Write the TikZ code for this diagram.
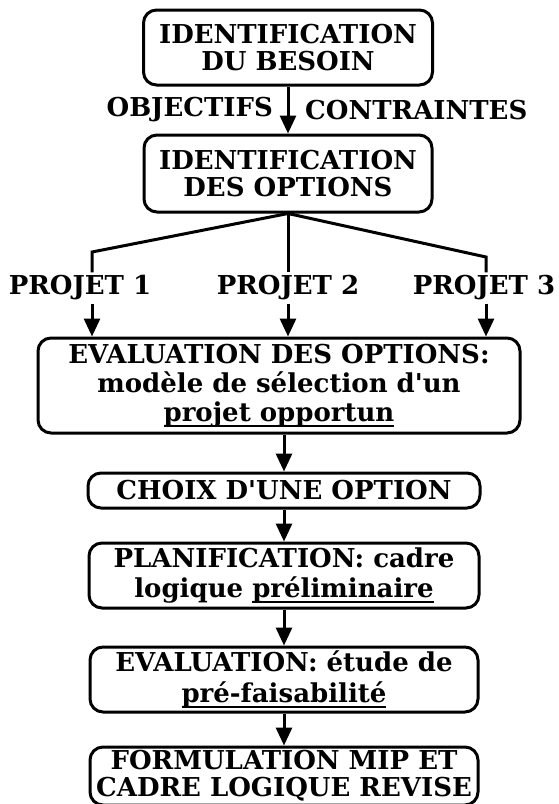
\documentclass[tikz,border=0pt]{standalone}
\usepackage{fontspec}
\setmainfont{DejaVu Serif}
\usetikzlibrary{arrows.meta}
% thick underline for emphasised lines
\newcommand\ulx[1]{\setbox0\hbox{#1}\rlap{\rule[-6pt]{\wd0}{2.6pt}}\box0}
\begin{document}
\begin{tikzpicture}[x=1pt,y=-1pt,
  every node/.style={font=\fontsize{26}{27}\selectfont\bfseries},
  box/.style={draw, line width=3pt, rounded corners=13pt, align=center, inner sep=0pt},
  lbl/.style={inner sep=3pt},
  link/.style={line width=3pt},
  arr/.style={line width=3pt, -{Triangle[length=18pt,width=16pt]}}]
\useasboundingbox (0,0) rectangle (558,804);

% main chain of boxes
\node[box, minimum width=289pt, minimum height=75pt] (B1) at (288,47.5) {IDENTIFICATION\\DU BESOIN};
\node[box, minimum width=288pt, minimum height=77pt] (B2) at (288,173.5) {IDENTIFICATION\\DES OPTIONS};
\node[box, minimum width=482pt, minimum height=95pt, font=\fontsize{26}{29}\selectfont\bfseries] (B3) at (279,385.5)
  {EVALUATION DES OPTIONS:\\modèle de sélection d\textquotesingle un\\\ulx{projet opportun}};
\node[box, minimum width=392pt, minimum height=35pt] (B4) at (284,490.5) {CHOIX D\textquotesingle UNE OPTION};
\node[box, minimum width=390pt, minimum height=65pt, font=\fontsize{26}{30}\selectfont\bfseries] (B5) at (284,575.5)
  {PLANIFICATION: cadre\\logique \ulx{préliminaire}};
\node[box, minimum width=388pt, minimum height=65pt, font=\fontsize{26}{31}\selectfont\bfseries] (B6) at (284,679.5)
  {EVALUATION: étude de\\\ulx{pré-faisabilité}};
\node[box, minimum width=388pt, minimum height=58pt] (B7) at (284,776)
  {FORMULATION MIP ET\\CADRE LOGIQUE REVISE};

% labels on the first arrow
\node[lbl, anchor=east] (obj) at (276,110) {OBJECTIFS};
\node[lbl, anchor=west] (con) at (302,110) {CONTRAINTES};

% project labels
\node[lbl] (P1) at (80,288) {PROJET 1};
\node[lbl] (P2) at (288,288) {PROJET 2};
\node[lbl] (P3) at (484,288) {PROJET 3};

% branch corners
\coordinate (c1) at (92,252);
\coordinate (c3) at (486,257);

% connectors
\draw[arr] (B1.south) -- (B2.north);
\draw[link] (B2.south) -- (c1) -- (c1 |- P1.north);
\draw[link] (B2.south) -- (P2.north);
\draw[link] (B2.south) -- (c3) -- (c3 |- P3.north);
\draw[arr] (c1 |- P1.south) -- (c1 |- B3.north);
\draw[arr] (P2.south) -- (P2 |- B3.north);
\draw[arr] (c3 |- P3.south) -- (c3 |- B3.north);
\draw[arr] (B3.south -| B4.north) -- (B4.north);
\draw[arr] (B4.south) -- (B5.north);
\draw[arr] (B5.south) -- (B6.north);
\draw[arr] (B6.south) -- (B7.north);
\end{tikzpicture}
\end{document}
